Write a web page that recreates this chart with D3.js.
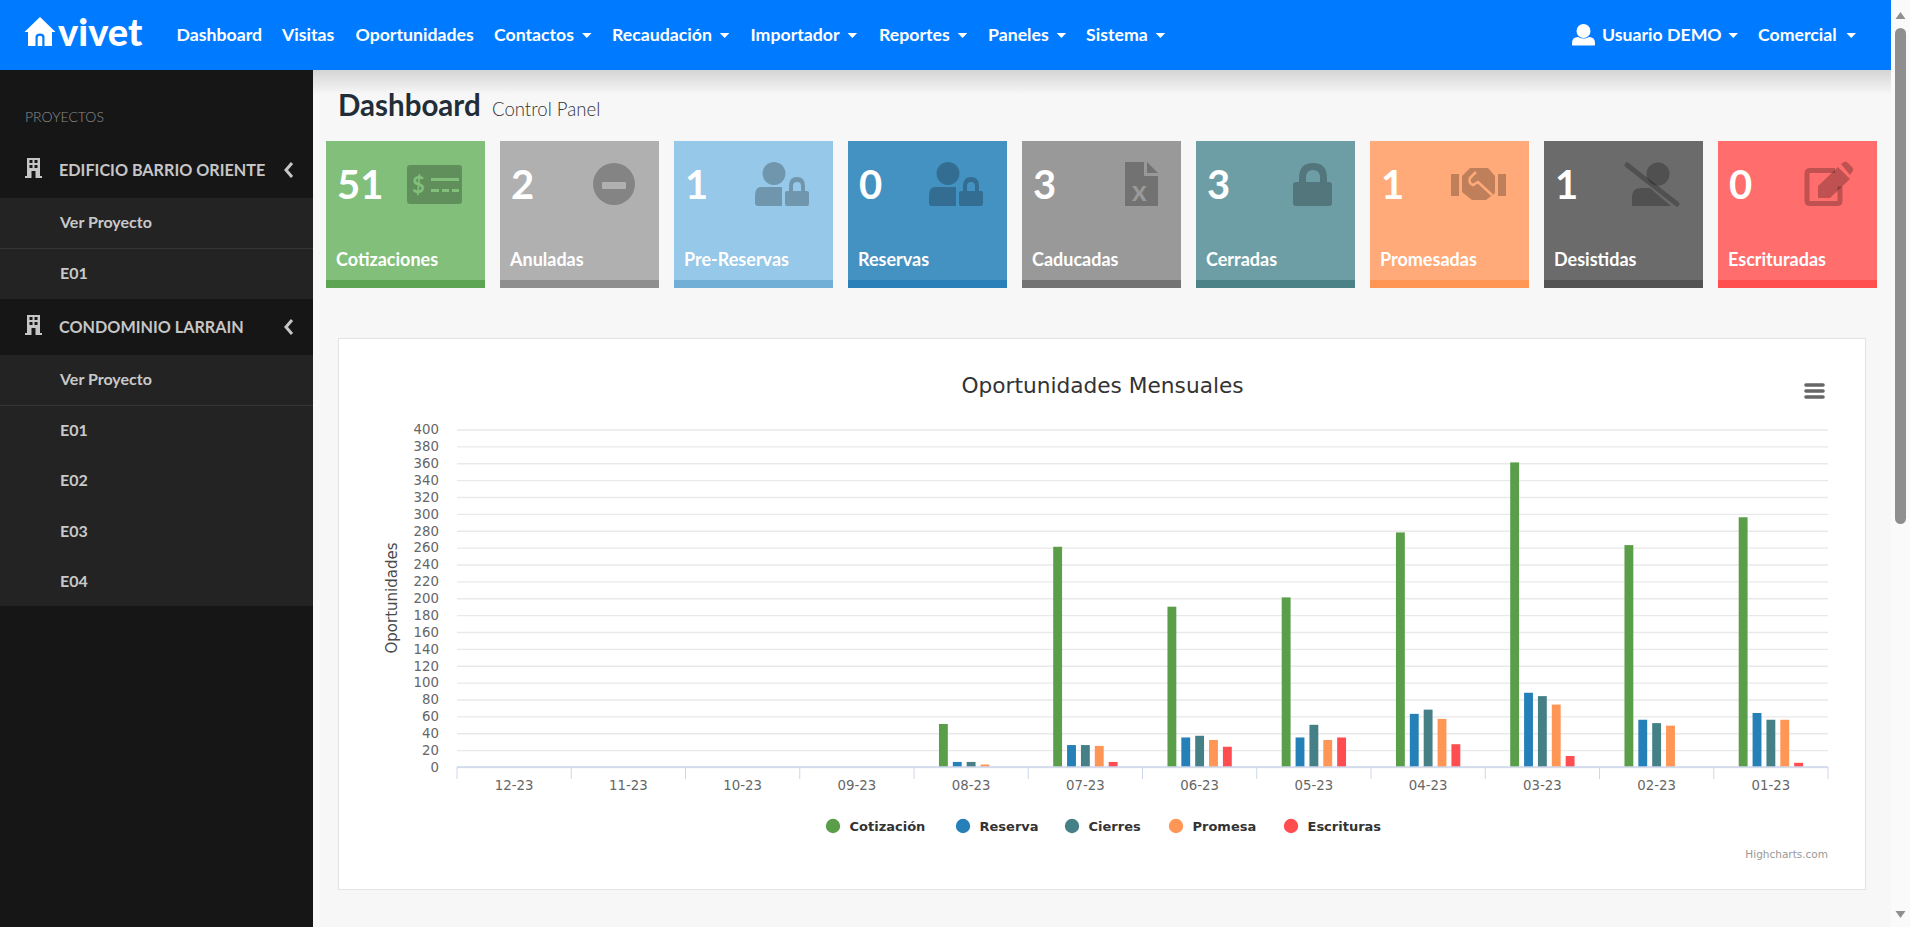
<!DOCTYPE html>
<html>
<head>
<meta charset="utf-8">
<script src="https://d3js.org/d3.v7.min.js"></script>
<style>
  html, body {margin: 0; padding: 0; overflow: hidden; background: #f7f7f7;}
  svg {display: block; font-family: Lato, sans-serif;}
  .hc text {font-family: "DejaVu Sans", sans-serif;}
  .yaxis path, .xaxis path {display: none;}
  .yaxis line {stroke: #e9e9e9; stroke-width: 1.4;}
  .yaxis text, .xaxis text {fill: #666; font-size: 13.3px;}
</style>
</head>
<body>
<svg id="page" width="1910" height="927"></svg>
<script>
// chart data
var categories = ["12-23","11-23","10-23","09-23","08-23","07-23","06-23","05-23","04-23","03-23","02-23","01-23"];
var seriesNames = ["Cotización","Reserva","Cierres","Promesa","Escrituras"];
var cotizacion = [0,0,0,0,51,261,190,201,278,361,263,296];
var reserva    = [0,0,0,0,6,26,35,35,63,88,56,64];
var cierres    = [0,0,0,0,6,26,37,50,68,84,52,56];
var promesa    = [0,0,0,0,3,25,32,32,57,74,49,56];
var escrituras = [0,0,0,0,0,6,24,35,27,13,0,5];
var yTicks = [0,20,40,60,80,100,120,140,160,180,200,220,240,260,280,300,320,340,360,380,400];

// page content
var navItems = ["Dashboard","Visitas","Oportunidades","Contactos","Recaudación","Importador","Reportes","Paneles","Sistema"];
var navCarets = [false,false,false,true,true,true,true,true,true];
var cardValues = ["51","2","1","0","3","3","1","1","0"];
var cardLabels = ["Cotizaciones","Anuladas","Pre-Reservas","Reservas","Caducadas","Cerradas","Promesadas","Desistidas","Escrituradas"];
var cardIcons = ["money","minus","userlock","userlock","file","lock","hands","userslash","edit"];
var projects = ["EDIFICIO BARRIO ORIENTE","CONDOMINIO LARRAIN"];
var projectItems = [["Ver Proyecto","E01"],["Ver Proyecto","E01","E02","E03","E04"]];

// styles and layout
var seriesColors = ["#5a9e4a","#2580b8","#468087","#ff9655","#ff4d50"];
var cardColors = ["#81bf7b","#b0b0b0","#96c8e9","#4492c2","#999999","#6e9ea5","#ffaa78","#6b6b6b","#ff6d6d"];
var stripColors = ["#5da453","#8e8e8e","#72afd6","#2a80b9","#737373","#4a8288","#ff9655","#535353","#ff4f4f"];
var navX = [176.5,282,355.5,494,612,750.5,879,988,1086];
var legendX = [833,963,1072,1176,1291];
var projectY = [142,299];

var svg = d3.select("#page");
var defs = svg.append("defs");
var grad = defs.append("linearGradient").attr("id","navshadow").attr("x1",0).attr("y1",0).attr("x2",0).attr("y2",1);
grad.append("stop").attr("offset","0%").attr("stop-color","#d4d4d4");
grad.append("stop").attr("offset","100%").attr("stop-color","#f7f7f7");

svg.append("rect").attr("width",1910).attr("height",927).attr("fill","#f7f7f7");
svg.append("rect").attr("x",313).attr("y",70).attr("width",1578).attr("height",24).attr("fill","url(#navshadow)");

// scrollbar
svg.append("rect").attr("x",1891).attr("width",19).attr("height",927).attr("fill","#fafafa");
svg.append("rect").attr("x",1895).attr("y",28).attr("width",11).attr("height",496).attr("rx",5.5).attr("fill","#8f8f8f");
svg.append("path").attr("d","M1895.5 19 L1900.5 12 L1905.5 19 Z").attr("fill","#8f8f8f");
svg.append("path").attr("d","M1895.5 911 L1900.5 918 L1905.5 911 Z").attr("fill","#8f8f8f");

// navbar
var nav = svg.append("g");
nav.append("rect").attr("width",1891).attr("height",70).attr("fill","#007bff");
nav.append("path").attr("fill","#fff").attr("fill-rule","evenodd")
  .attr("d","M40 17 L55.5 32 L52 32 L52 46 L44.5 46 L44.5 37 Q44.5 33.5 40 33.5 Q35.5 33.5 35.5 37 L35.5 46 L28 46 L28 32 L24.5 32 Z M37.7 46 L37.7 37.5 Q37.7 35.8 40 35.8 Q42.3 35.8 42.3 37.5 L42.3 46 Z");
nav.append("text").attr("x",58).attr("y",46).attr("fill","#fff")
  .attr("font-size",38).attr("font-weight",900).text("vivet");

function caret(g, x) {
  g.append("path").attr("d","M"+x+" 33 h9.5 l-4.75 5 Z").attr("fill","#fff");
}
nav.selectAll("text.item").data(navItems).enter().append("text").attr("class","item")
  .attr("x",function(d,i){return navX[i];}).attr("y",41)
  .attr("fill","#fff").attr("font-size",17.7).attr("font-weight",700).text(function(d){return d;});
nav.selectAll("text.item").each(function(d,i){
  if (navCarets[i]) caret(nav, navX[i] + this.getComputedTextLength() + 8);
});

// user menu
nav.append("circle").attr("cx",1583.5).attr("cy",31).attr("r",7).attr("fill","#fff");
nav.append("path").attr("d","M1572 45 V43 Q1572 37 1578 37 Q1583.5 40 1589 37 Q1595 37 1595 43 V45 Q1595 45.5 1593 45.5 H1574 Q1572 45.5 1572 45 Z").attr("fill","#fff");
nav.append("text").attr("x",1602).attr("y",41).attr("fill","#fff").attr("font-size",17.7).attr("font-weight",700).text("Usuario DEMO");
caret(nav, 1728.5);
nav.append("text").attr("x",1758).attr("y",41).attr("fill","#fff").attr("font-size",17.7).attr("font-weight",700).text("Comercial");
caret(nav, 1846.5);

// sidebar
var side = svg.append("g");
side.append("rect").attr("y",70).attr("width",313).attr("height",857).attr("fill","#161616");
side.append("text").attr("x",25).attr("y",122).attr("fill","#8d8d8d").attr("font-size",14).attr("font-weight",300).text("PROYECTOS");

function building(g, y) {
  g.append("path").attr("fill","#c6c6c6").attr("fill-rule","evenodd")
    .attr("d","M27 "+y+" h13 v18 h2 v2 h-17 v-2 h2 Z M29.5 "+(y+2)+" v3 h3 v-3 Z M34.5 "+(y+2)+" v3 h3 v-3 Z M29.5 "+(y+7)+" v3 h3 v-3 Z M34.5 "+(y+7)+" v3 h3 v-3 Z M31.5 "+(y+13)+" v7 h4 v-7 Z");
}
projects.forEach(function(p,i){
  var sy = projectY[i];
  var top = sy + 56;
  var items = projectItems[i];
  side.append("text").attr("x",59).attr("y",sy+34).attr("fill","#c6c6c6").attr("font-size",16.2).attr("font-weight",700).text(p);
  building(side, sy+16);
  side.append("path").attr("d","M292 "+(sy+21)+" l-6 7 l6 7").attr("fill","none").attr("stroke","#c6c6c6").attr("stroke-width",3);
  side.append("rect").attr("y",top).attr("width",313).attr("height",items.length*50+1).attr("fill","#232323");
  items.forEach(function(t,j){
    side.append("text").attr("x",60).attr("y",top+30+j*50.5).attr("fill","#c9c9c9").attr("font-size",16).attr("font-weight",700).text(t);
    if (j==0) side.append("rect").attr("y",top+50).attr("width",313).attr("height",1).attr("fill","#353535");
  });
});

// page header
svg.append("text").attr("x",338).attr("y",116).attr("fill","#222d38").attr("font-size",29.5).attr("font-weight",700).text("Dashboard");
svg.append("text").attr("x",492).attr("y",116).attr("fill","#333").attr("font-size",18.6).attr("font-weight",300).text("Control Panel");

// cards
function drawIcon(g, kind, bg) {
  var ink = function(d){ return g.append("path").attr("d",d).attr("fill","#000").attr("fill-opacity",0.25).attr("fill-rule","evenodd"); };
  var cut = function(d){ return g.append("path").attr("d",d).attr("fill",bg); };
  var USER = "M100 162 a11.5 11.5 0 1 0 .01 0 Z M87 187 h21 v19 h-24 q-3 0 -3 -3 v-7 q0 -9 6 -9 Z";
  var LOCK = "M111 191 h4 v-5 q0 -9 8 -9 q8 0 8 9 v5 h2 q2 0 2 2 v11 q0 2 -2 2 h-20 q-2 0 -2 -2 v-11 q0 -2 2 -2 Z M119 191 h8 v-5 q0 -4 -4 -4 q-4 0 -4 4 Z";
  if (kind=="money") {
    ink("M84 165 h49 q3 0 3 3 v33 q0 3 -3 3 h-49 q-3 0 -3 -3 v-33 q0 -3 3 -3 Z");
    g.append("text").attr("x",86).attr("y",193).attr("fill",bg).attr("font-size",22).attr("font-weight",700).text("$");
    cut("M105 178 h28 v3 h-28 Z M105 189 h8 v3 h-8 Z M116 189 h7 v3 h-7 Z M126 189 h7 v3 h-7 Z");
  } else if (kind=="minus") {
    g.append("circle").attr("cx",114).attr("cy",184).attr("r",21).attr("fill","#000").attr("fill-opacity",0.25);
    cut("M103 182 h22 q1 0 1 1 v5 q0 1 -1 1 h-22 q-1 0 -1 -1 v-5 q0 -1 1 -1 Z");
  } else if (kind=="userlock") {
    ink(USER);
    ink(LOCK);
  } else if (kind=="file") {
    ink("M103 162 h19 v14 h14 v30 h-33 Z M125 162 l11 11 h-11 Z");
    g.append("text").attr("x",110).attr("y",201).attr("fill",bg).attr("font-size",28).attr("font-weight",700).text("x");
  } else if (kind=="lock") {
    ink("M103 182 v-4 q0 -15 14 -15 q14 0 14 15 v4 h2 q3 0 3 3 v18 q0 3 -3 3 h-33 q-3 0 -3 -3 v-18 q0 -3 3 -3 Z M110 182 h14 v-4 q0 -8 -7 -8 q-7 0 -7 8 Z");
  } else if (kind=="hands") {
    ink("M81 174 h8 v22 h-8 Z M128 174 h8 v22 h-8 Z M92 176 l8 -8 h18 l7 8 v17 l-9 7 h-14 l-10 -8 Z");
    g.append("path").attr("d","M106 172 l-6 6 q-2 5 3 7 l5 -3 l14 13").attr("fill","none").attr("stroke",bg).attr("stroke-width",2.5);
  } else if (kind=="userslash") {
    g.append("circle").attr("cx",114).attr("cy",174).attr("r",11.5).attr("fill","#000").attr("fill-opacity",0.25);
    ink("M88 206 v-9 q0 -9 9 -9 h9 l21 18 Z");
    g.append("path").attr("d","M83 165 L133 204").attr("stroke","#000").attr("stroke-opacity",0.25).attr("stroke-width",5).attr("stroke-linecap","round");
  } else if (kind=="edit") {
    g.append("path").attr("fill","none").attr("stroke","#000").attr("stroke-opacity",0.25).attr("stroke-width",5)
      .attr("d","M117 170.5 h-25 q-3 0 -3 3 v27 q0 3 3 3 h27 q3 0 3 -3 v-14");
    ink("M100 198 v-12 L120 167 L132 179 L112 198 Z M123 164 l3 -2 q2 -1 4 1 l5 5 q1 2 -1 4 l-2 3 Z");
  }
}
var cards = svg.selectAll("g.card").data(cardValues).enter().append("g").attr("class","card")
  .attr("transform",function(d,i){return "translate("+(326+i*174)+",0)";});
cards.append("rect").attr("y",141).attr("width",159).attr("height",147).attr("fill",function(d,i){return cardColors[i];});
cards.append("rect").attr("y",280).attr("width",159).attr("height",8).attr("fill",function(d,i){return stripColors[i];});
cards.append("text").attr("x",11).attr("y",199).attr("fill","#fff").attr("font-size",40).attr("font-weight",700).text(function(d){return d;});
cards.append("text").attr("x",10).attr("y",266).attr("fill","#fff").attr("font-size",18).attr("font-weight",700).text(function(d,i){return cardLabels[i];});
cards.each(function(d,i){ drawIcon(d3.select(this), cardIcons[i], cardColors[i]); });

// chart box
svg.append("rect").attr("x",338.5).attr("y",338.5).attr("width",1527).attr("height",551).attr("fill","#fff").attr("stroke","#e3e3e3");
var hc = svg.append("g").attr("class","hc");
hc.append("text").attr("x",1102.5).attr("y",393).attr("text-anchor","middle").attr("fill","#333").attr("font-size",21.7).text("Oportunidades Mensuales");

var hamburger = hc.append("g").attr("stroke","#666").attr("stroke-width",3.6).attr("stroke-linecap","round");
hamburger.selectAll("line").data([385,391,397]).enter().append("line")
  .attr("x1",1806).attr("x2",1823).attr("y1",function(d){return d;}).attr("y2",function(d){return d;});

var x0 = d3.scaleBand().domain(categories).range([457,1828]);
var x1 = d3.scaleBand().domain(seriesNames).range([0,x0.bandwidth()]).paddingInner(0.36).paddingOuter(1.8);
var y = d3.scaleLinear().domain([0,400]).range([767,429.5]);

hc.append("g").attr("class","yaxis").attr("transform","translate(457,0)")
  .call(d3.axisLeft(y).tickValues(yTicks).tickSize(-1371).tickPadding(18));

var xAxis = hc.append("g").attr("class","xaxis").attr("transform","translate(0,767)")
  .call(d3.axisBottom(x0).tickSize(0).tickPadding(23));
xAxis.selectAll("text").attr("dy","0");
hc.selectAll("line.xtick").data(categories).enter().append("line").attr("class","xtick")
  .attr("x1",function(d){return x0(d);}).attr("x2",function(d){return x0(d);}).attr("y1",767).attr("y2",779).attr("stroke","#ccd6eb");
hc.append("line").attr("class","xend").attr("x1",x0.range()[1]).attr("x2",x0.range()[1]).attr("y1",767).attr("y2",779).attr("stroke","#ccd6eb");

var seriesData = [cotizacion,reserva,cierres,promesa,escrituras];
seriesNames.forEach(function(name,s){
  hc.append("g").selectAll("rect").data(seriesData[s]).enter().append("rect")
    .attr("x",function(d,i){return x0(categories[i])+x1(name);})
    .attr("y",function(d){return y(d);})
    .attr("width",x1.bandwidth())
    .attr("height",function(d){return y(0)-y(d);})
    .attr("fill",seriesColors[s]);
});
hc.append("line").attr("x1",457).attr("x2",1828).attr("y1",767).attr("y2",767).attr("stroke","#ccd6eb").attr("stroke-width",1.5);

hc.append("text").attr("transform","translate(397,598) rotate(-90)").attr("text-anchor","middle")
  .attr("fill","#4a4a4a").attr("font-size",15).text("Oportunidades");

// legend
var legend = hc.selectAll("g.leg").data(seriesNames).enter().append("g").attr("class","leg")
  .attr("transform",function(d,i){return "translate("+legendX[i]+",826)";});
legend.append("circle").attr("r",7.2).attr("fill",function(d,i){return seriesColors[i];});
legend.append("text").attr("x",16.5).attr("y",5).attr("fill","#333").attr("font-size",13).attr("font-weight",700).text(function(d){return d;});

hc.append("text").attr("x",1828).attr("y",858).attr("text-anchor","end").attr("fill","#999").attr("font-size",10.5).text("Highcharts.com");
</script>
</body>
</html>
